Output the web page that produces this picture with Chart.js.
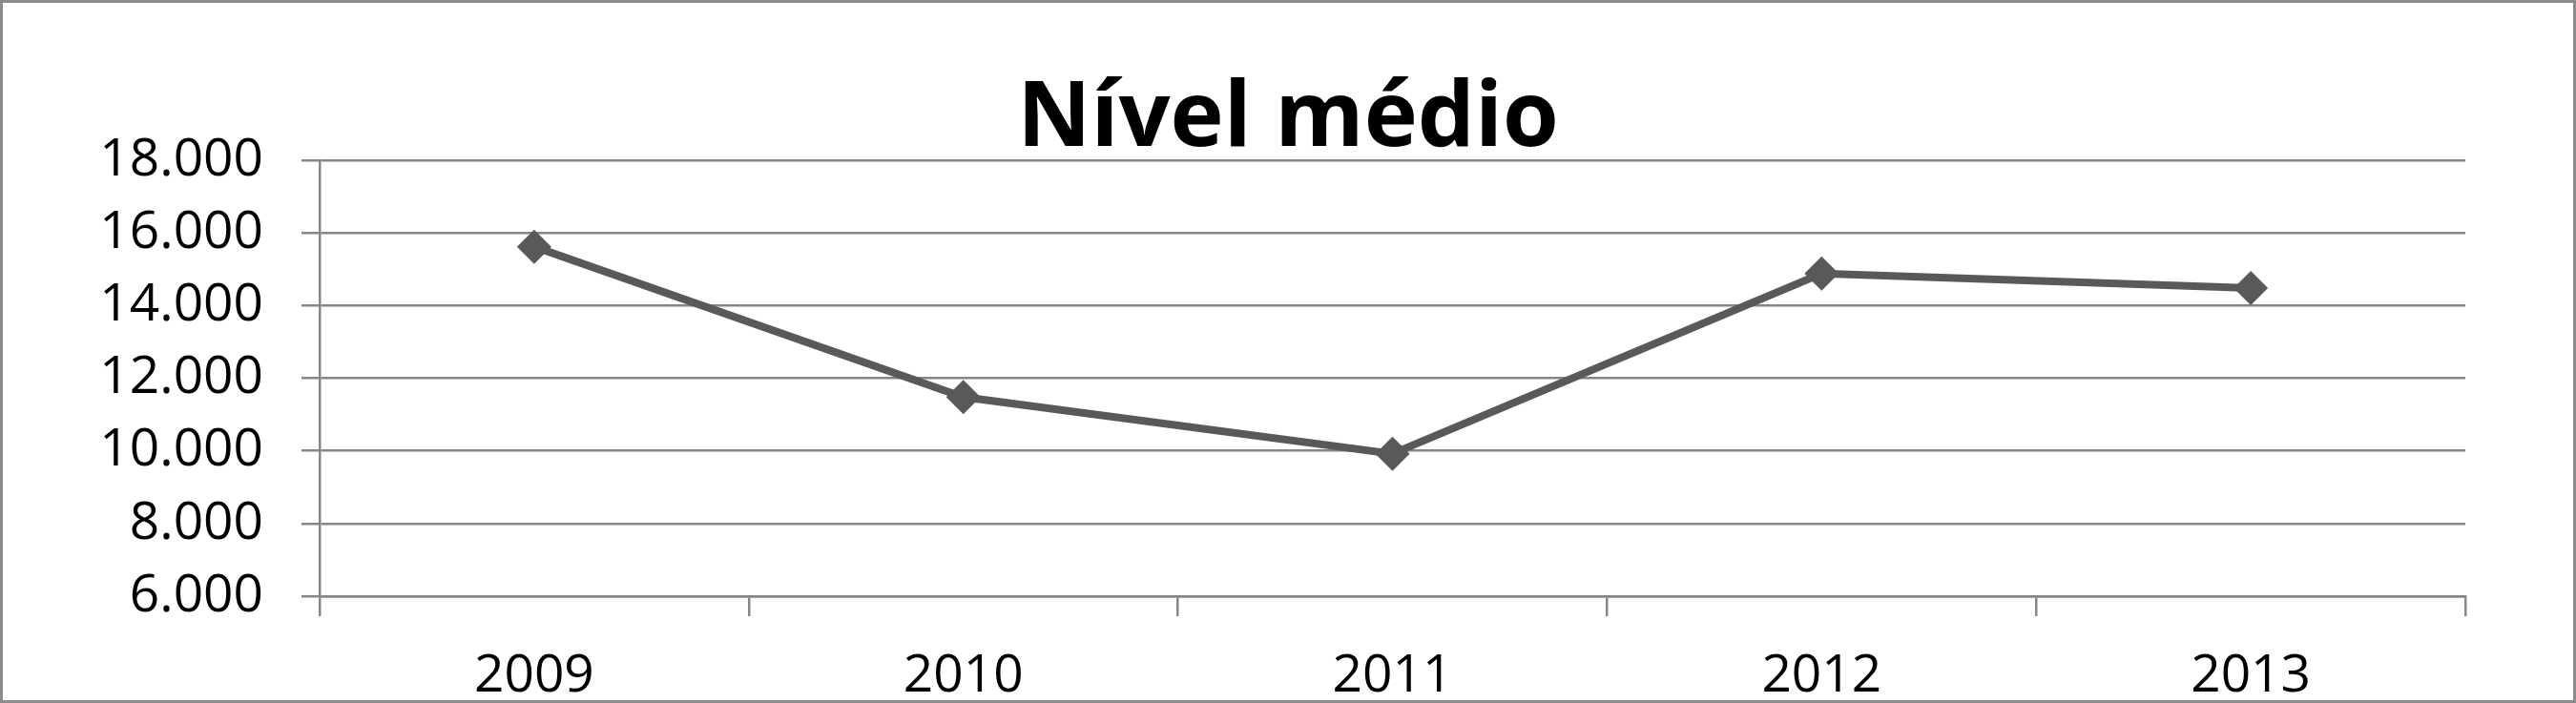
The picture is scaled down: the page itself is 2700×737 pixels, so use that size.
<!DOCTYPE html>
<html>
<head>
<meta charset="utf-8">
<script src="https://cdn.jsdelivr.net/npm/chart.js@4"></script>
<style>
    html, body { margin: 0; padding: 0; background: #ffffff; }
    #wrap { width: 2700px; height: 737px; position: relative; }
</style>
</head>
<body>
<div id="wrap"><canvas id="nivelChart"></canvas></div>
<script>
// Chart data
const years = ['2009', '2010', '2011', '2012', '2013'];
const nivelMedio = [15620, 11480, 9920, 14880, 14480];
const yMin = 6000;
const yMax = 18000;
const yStep = 2000;

const lineGray = '#595959';
const gridGray = '#868686';

// thousands separator like "18.000"
function formatTick(value) {
    return String(value).replace(/\B(?=(\d{3})+(?!\d))/g, '.');
}

// white background and outer frame of the chart
const framePlugin = {
    id: 'frame',
    beforeDraw(chart) {
        const ctx = chart.ctx;
        ctx.save();
        ctx.fillStyle = '#ffffff';
        ctx.fillRect(0, 0, chart.width, chart.height);
        ctx.restore();
    },
    afterDraw(chart) {
        const ctx = chart.ctx;
        ctx.save();
        ctx.strokeStyle = '#8c8c8c';
        ctx.lineWidth = 3;
        ctx.strokeRect(1.5, 1.5, chart.width - 3, chart.height - 3);
        ctx.restore();
    }
};

document.addEventListener('DOMContentLoaded', function () {
    const canvas = document.getElementById('nivelChart');
    const ctx = canvas.getContext('2d');
    new Chart(ctx, {
        type: 'line',
        data: {
            labels: years,
            datasets: [{
                label: 'Nível médio',
                data: nivelMedio,
                yAxisID: 'y',
                borderColor: lineGray,
                borderWidth: 8,
                backgroundColor: lineGray,
                pointStyle: 'rectRot',
                pointRadius: 18,
                pointHoverRadius: 18,
                pointBorderWidth: 0,
                pointBackgroundColor: lineGray,
                tension: 0,
                fill: false
            }]
        },
        options: {
            responsive: true,
            maintainAspectRatio: false,
            devicePixelRatio: 1,
            animation: false,
            layout: {
                padding: 0
            },
            plugins: {
                legend: { display: false },
                tooltip: { enabled: false },
                title: {
                    display: true,
                    text: 'Nível médio',
                    color: '#000000',
                    font: { family: 'Open Sans', size: 95, weight: 'bold', lineHeight: 0.8 },
                    padding: { top: 88, bottom: 4 }
                }
            },
            scales: {
                x: {
                    offset: true,
                    afterFit: function (scale) { scale.height = 112; },
                    grid: {
                        offset: true,
                        drawOnChartArea: false,
                        drawTicks: true,
                        tickLength: 21,
                        color: gridGray,
                        lineWidth: 2.5
                    },
                    border: { display: true, color: gridGray, width: 2.5 },
                    ticks: {
                        color: '#000000',
                        padding: 30,
                        maxRotation: 0,
                        font: { family: 'Open Sans', size: 55 }
                    }
                },
                y: {
                    min: yMin,
                    max: yMax,
                    afterFit: function (scale) { scale.width = 335; },
                    grid: {
                        color: gridGray,
                        lineWidth: 2.5,
                        tickLength: 19
                    },
                    border: { display: true, color: gridGray, width: 2.5 },
                    ticks: {
                        stepSize: yStep,
                        color: '#000000',
                        padding: 40,
                        font: { family: 'Open Sans', size: 55 },
                        callback: function (value) { return formatTick(value); }
                    }
                },
                // empty right margin so the title centres on the whole picture
                yRight: {
                    position: 'right',
                    min: yMin,
                    max: yMax,
                    afterFit: function (scale) { scale.width = 116; },
                    grid: { drawOnChartArea: false, drawTicks: false },
                    border: { display: false },
                    ticks: { display: false }
                }
            }
        },
        plugins: [framePlugin]
    });
});
</script>
</body>
</html>
